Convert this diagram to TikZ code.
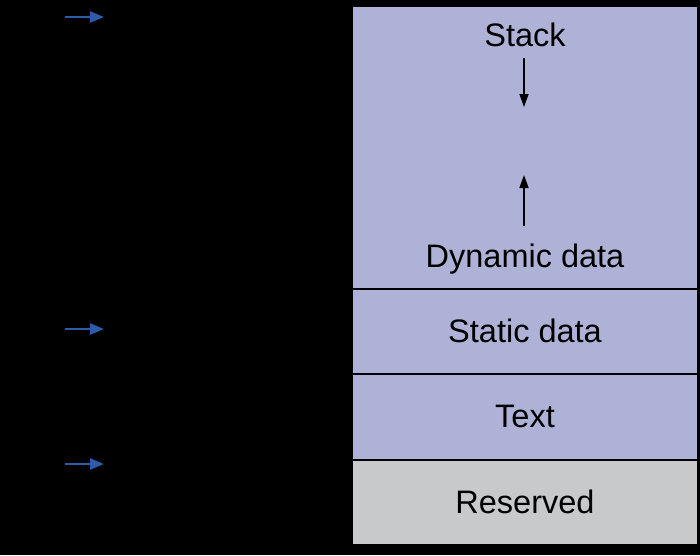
\documentclass[tikz,border=0pt]{standalone}
\usepackage{fontspec}
\setmainfont{Liberation Sans}
\usetikzlibrary{arrows.meta}
\definecolor{lav}{HTML}{AEB2D6}
\definecolor{resgray}{HTML}{C8C9CB}
\definecolor{ptrblue}{HTML}{2A5CA8}
\tikzset{
  region/.style={draw=black, line width=1.5pt, anchor=north west, minimum width=346pt, inner sep=0pt, outer sep=0pt},
  lbl/.style={font=\fontsize{32.5}{38}\selectfont, text=black, inner sep=0pt},
  growarrow/.style={-{Triangle[length=13pt,width=9pt]}, line width=1.4pt, black},
  ptr/.style={-{Triangle[length=14pt,width=11pt]}, line width=2.5pt, ptrblue}
}
\begin{document}
\begin{tikzpicture}[x=1pt,y=-1pt]
\fill[black] (0,0) rectangle (700,555);
\useasboundingbox (0,0) rectangle (700,555);
\node[region, fill=lav, minimum height=283pt] (stk) at (352,6) {};
\node[region, fill=lav, minimum height=85pt] (sta) at (352,289) {};
\node[region, fill=lav, minimum height=86pt] (txt) at (352,374) {};
\node[region, fill=resgray, minimum height=85pt] (res) at (352,460) {};
\node[lbl] (stacklbl) at (525,35) {Stack};
\node[lbl] (dynlbl) at (525,259) {Dynamic data};
\node[lbl] (statlbl) at (525,331) {Static data};
\node[lbl] (textlbl) at (525,416) {Text};
\node[lbl] (reslbl) at (525,502) {Reserved};
\coordinate (d1) at (524,58);
\coordinate (d2) at (524,107);
\coordinate (u1) at (524,226);
\coordinate (u2) at (524,175);
\draw[growarrow] (d1) -- (d2);
\draw[growarrow] (u1) -- (u2);
\coordinate (sp0) at (65,17);  \coordinate (sp1) at (104,17);
\coordinate (gp0) at (65,329); \coordinate (gp1) at (104,329);
\coordinate (pc0) at (65,464); \coordinate (pc1) at (104,464);
\draw[ptr] (sp0) -- (sp1);
\draw[ptr] (gp0) -- (gp1);
\draw[ptr] (pc0) -- (pc1);
\end{tikzpicture}
\end{document}
